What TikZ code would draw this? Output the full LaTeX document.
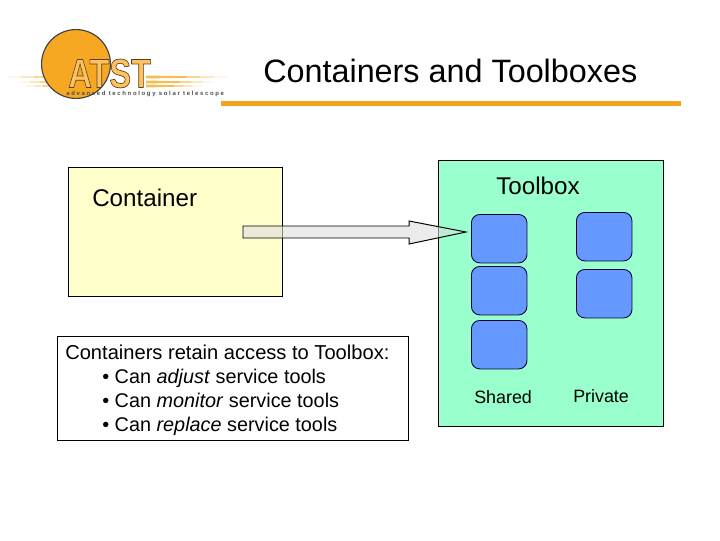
\documentclass[tikz,border=0pt]{standalone}
\usepackage{fontspec}
\setmainfont{Liberation Sans}
\usetikzlibrary{calc,positioning}
\definecolor{sunorange}{HTML}{F7A823}
\definecolor{rulegold}{HTML}{F2A41C}
\definecolor{lettergold}{HTML}{FFC25E}
\definecolor{letteredge}{HTML}{5A4020}
\definecolor{streakgold}{HTML}{F5BE55}
\definecolor{containeryellow}{HTML}{FFFFCC}
\definecolor{toolboxgreen}{HTML}{99FFCC}
\definecolor{toolblue}{HTML}{6699FF}
\definecolor{arrowgray}{HTML}{DDDDDD}
\newcommand{\strokedtext}[1]{\special{pdf:code q 2 Tr 0.5 w 0.35 0.25 0.12 RG}#1\special{pdf:code Q}}
\tikzset{
  panel/.style={draw=black,line width=0.6pt,anchor=north west,inner sep=0},
  toolbox/.style={draw=black!80!blue,line width=0.6pt,fill=toolblue,rounded corners=6pt,
    minimum width=39.5pt,minimum height=34.5pt,inner sep=0,anchor=north west},
  label/.style={inner sep=0,anchor=base west,font=\fontsize{12.7pt}{14pt}\selectfont},
  notetext/.style={inner sep=0,anchor=base west,font=\fontsize{14.1pt}{17pt}\selectfont},
}
\begin{document}
\begin{tikzpicture}[x=0.025cm,y=-0.025cm]
  \useasboundingbox (0,0) rectangle (720,540);
  % Logo
  \foreach \y/\x in {77/8,82/20,86/26}
    \fill[streakgold] (\x,\y) -- (60,\y-1) -- (60,\y+1) -- cycle;
  \foreach \y/\x in {77/227,82/213,86/202}
    \fill[streakgold] (\x,\y) -- (146,\y-1.5) -- (146,\y+1.5) -- cycle;
  \node[circle,draw=black!75,fill=sunorange,line width=0.8pt,minimum size=49pt,inner sep=0] (sun) at (76,64) {};
  \node[inner sep=0,anchor=base west,text=lettergold,font=\fontsize{29pt}{30pt}\bfseries\selectfont] (atst) at (68,87.5) {\scalebox{0.8}[1]{\strokedtext{ATST}}};
  \node[inner sep=0,anchor=base west,text=black!70,font=\fontsize{4.25pt}{5pt}\bfseries\selectfont] (tagline) at (66,95) {a d v a n c e d\ \ t e c h n o l o g y\ \ s o l a r\ \ t e l e s c o p e};
  \draw[draw=rulegold,line width=3pt] (221,103.5) -- (681,103.5);
  % Title
  \node[inner sep=0,anchor=base west,font=\fontsize{23pt}{26pt}\selectfont] (title) at (263,82) {Containers and Toolboxes};
  % Container side
  \node[panel,fill=containeryellow,minimum width=152pt,minimum height=91.5pt] (container) at (68,167) {};
  \node[inner sep=0,anchor=base west,font=\fontsize{17.2pt}{20pt}\selectfont] (containerlabel) at (92,206) {Container};
  \node[panel,fill=white,minimum width=249.5pt,minimum height=74pt] (notes) at (57,336) {};
  \node[notetext,font=\fontsize{14.3pt}{17pt}\selectfont] (noteA) at (65,359) {Containers retain access to Toolbox:};
  \node[notetext] (noteB) at (102,383) {• Can \textit{adjust} service tools};
  \node[notetext] (noteC) at (102,407) {• Can \textit{monitor} service tools};
  \node[notetext] (noteD) at (102,431) {• Can \textit{replace} service tools};
  % Toolbox side
  \node[panel,fill=toolboxgreen,minimum width=160pt,minimum height=189.5pt] (box) at (438,160) {};
  \node[inner sep=0,anchor=base west,font=\fontsize{17.2pt}{20pt}\selectfont] (boxlabel) at (496,194) {Toolbox};
  \node[toolbox] (sharedA) at (471,214) {};
  \node[toolbox] (sharedB) at (471,266) {};
  \node[toolbox] (sharedC) at (471,320) {};
  \node[toolbox] (privateA) at (576,212) {};
  \node[toolbox] (privateB) at (576,269) {};
  \node[label] (sharedlabel) at (474,403) {Shared};
  \node[label] (privatelabel) at (573,402) {Private};
  % Block arrow, see-through
  \coordinate (tail) at (243,232);
  \coordinate (tip) at (466,232);
  \draw[fill=arrowgray,fill opacity=.6,line width=0.7pt] ($(tail)+(0,-6)$) -- ($(tip)+(-57,-6)$) -- ($(tip)+(-57,-11)$)
    -- (tip) -- ($(tip)+(-57,12)$) -- ($(tip)+(-57,6)$) -- ($(tail)+(0,6)$) -- cycle;
\end{tikzpicture}
\end{document}
